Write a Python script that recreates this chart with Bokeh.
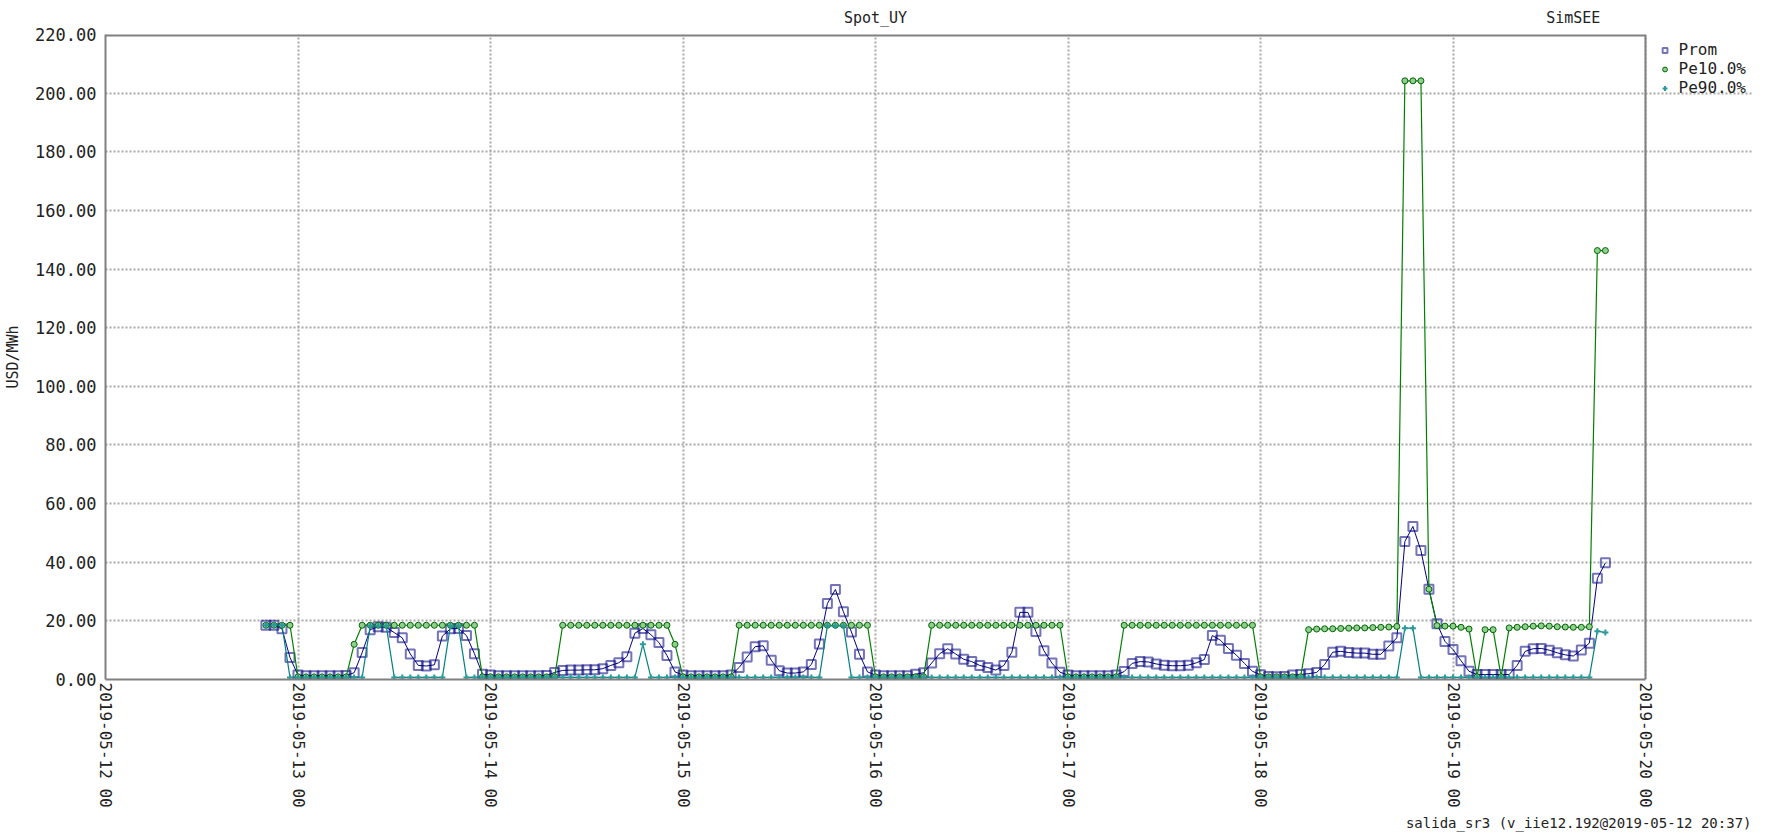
import pandas as pd
from bokeh.plotting import figure
from bokeh.models import (Range1d, FixedTicker, DatetimeTickFormatter, NumeralTickFormatter,
                          Legend, LegendItem, Title, DatetimeAxis, ColumnDataSource,
                          CustomJSTickFormatter)
from bokeh.embed import file_html
from bokeh.resources import INLINE

FONT = "DejaVu Sans Mono"

# ---------------- data (hourly, first point 2019-05-12 20:00) ----------------
start_time = "2019-05-12 20:00"

prom_d12 = [18.5, 18.5, 17.3, 7.5]
prom_d13 = [1.5, 1.3, 1.3, 1.3, 1.3, 1.3, 1.4, 2.3, 9.2, 17.0, 18.0, 17.8,
            16.0, 14.2, 8.7, 4.8, 4.6, 5.0, 14.8, 17.3, 17.4, 15.0, 8.8, 1.8]
prom_d14 = [1.5, 1.3, 1.3, 1.3, 1.3, 1.3, 1.3, 1.4, 2.4, 3.1, 3.2, 3.2,
            3.3, 3.3, 3.7, 4.8, 5.7, 7.8, 15.8, 17.4, 15.3, 12.6, 8.2, 2.6]
prom_d15 = [1.5, 1.3, 1.3, 1.3, 1.3, 1.3, 1.5, 4.1, 7.7, 11.2, 11.5, 6.6,
            3.0, 2.2, 2.2, 2.6, 5.1, 12.1, 25.9, 30.7, 23.1, 16.2, 8.6, 2.6]
prom_d16 = [1.5, 1.3, 1.3, 1.3, 1.3, 1.8, 2.3, 5.6, 8.8, 10.5, 8.7, 6.9,
            6.1, 4.8, 4.1, 3.2, 4.8, 9.3, 22.9, 22.9, 16.4, 9.8, 5.6, 2.5]
prom_d17 = [1.5, 1.3, 1.3, 1.3, 1.3, 1.3, 1.5, 2.7, 5.5, 6.1, 6.0, 5.3,
            4.9, 4.7, 4.7, 4.9, 5.7, 6.8, 15.0, 13.4, 10.6, 8.3, 5.5, 2.8]
prom_d18 = [1.6, 1.0, 0.9, 1.0, 1.5, 1.7, 2.0, 2.4, 5.1, 9.3, 9.6, 9.2,
            9.0, 9.0, 8.6, 8.6, 11.4, 14.2, 47.1, 52.2, 44.0, 30.8, 19.0, 13.0]
prom_d19 = [10.2, 6.4, 2.8, 1.7, 1.7, 1.7, 1.7, 1.7, 4.8, 9.6, 10.5, 10.6,
            10.0, 9.1, 8.4, 8.0, 10.1, 12.4, 34.5, 39.8]

pe10_d12 = [18.5, 18.5, 18.5, 18.5]
pe10_d13 = [0.9, 0.9, 0.9, 0.9, 0.9, 0.9, 0.9, 12.0, 18.5, 18.5, 18.5, 18.5,
            18.5, 18.5, 18.5, 18.5, 18.5, 18.5, 18.5, 18.5, 18.5, 18.5, 18.5, 0.9]
pe10_d14 = [0.9, 0.9, 0.9, 0.9, 0.9, 0.9, 0.9, 0.9, 0.9, 18.5, 18.5, 18.5,
            18.5, 18.5, 18.5, 18.5, 18.5, 18.5, 18.5, 18.5, 18.5, 18.5, 18.5, 12.0]
pe10_d15 = [0.9, 0.9, 0.9, 0.9, 0.9, 0.9, 0.9, 18.5, 18.5, 18.5, 18.5, 18.5,
            18.5, 18.5, 18.5, 18.5, 18.5, 18.5, 18.5, 18.5, 18.5, 18.5, 18.5, 18.5]
pe10_d16 = [0.9, 0.9, 0.9, 0.9, 0.9, 0.9, 0.9, 18.5, 18.5, 18.5, 18.5, 18.5,
            18.5, 18.5, 18.5, 18.5, 18.5, 18.5, 18.5, 18.5, 18.5, 18.5, 18.5, 18.5]
pe10_d17 = [0.9, 0.9, 0.9, 0.9, 0.9, 0.9, 0.9, 18.5, 18.5, 18.5, 18.5, 18.5,
            18.5, 18.5, 18.5, 18.5, 18.5, 18.5, 18.5, 18.5, 18.5, 18.5, 18.5, 18.5]
pe10_d18 = [0.9, 0.9, 0.9, 0.9, 0.9, 0.9, 17.0, 17.2, 17.3, 17.3, 17.4, 17.5,
            17.6, 17.6, 17.7, 17.8, 17.9, 18.1, 204.2, 204.2, 204.2, 30.8, 18.4, 18.2]
pe10_d19 = [18.2, 17.8, 17.2, 0.9, 17.0, 17.0, 0.9, 17.6, 17.8, 18.0, 18.2, 18.3,
            18.2, 18.0, 17.9, 17.8, 17.8, 18.0, 146.3, 146.3]

pe90_d12 = [18.5, 18.5, 18.5, 0.7]
pe90_d13 = [0.7, 0.7, 0.7, 0.7, 0.7, 0.7, 0.7, 0.7, 0.7, 18.3, 18.3, 18.3,
            0.7, 0.7, 0.7, 0.7, 0.7, 0.7, 0.7, 18.3, 18.3, 0.7, 0.7, 0.7]
pe90_d14 = [0.7, 0.7, 0.7, 0.7, 0.7, 0.7, 0.7, 0.7, 0.7, 0.7, 0.7, 0.7,
            0.7, 0.7, 0.7, 0.7, 0.7, 0.7, 0.7, 12.0, 0.7, 0.7, 0.7, 0.7]
pe90_d15 = [0.7, 0.7, 0.7, 0.7, 0.7, 0.7, 0.7, 0.7, 0.7, 0.7, 0.7, 0.7,
            0.7, 0.7, 0.7, 0.7, 0.7, 0.7, 18.3, 18.3, 18.3, 0.7, 0.7, 0.7]
pe90_d16 = [0.7, 0.7, 0.7, 0.7, 0.7, 0.7, 0.7, 0.7, 0.7, 0.7, 0.7, 0.7,
            0.7, 0.7, 0.7, 0.7, 0.7, 0.7, 0.7, 0.7, 0.7, 0.7, 0.7, 0.7]
pe90_d17 = [0.7, 0.7, 0.7, 0.7, 0.7, 0.7, 0.7, 0.7, 0.7, 0.7, 0.7, 0.7,
            0.7, 0.7, 0.7, 0.7, 0.7, 0.7, 0.7, 0.7, 0.7, 0.7, 0.7, 0.7]
pe90_d18 = [0.7, 0.7, 0.7, 0.7, 0.7, 0.7, 0.7, 0.7, 0.7, 0.7, 0.7, 0.7,
            0.7, 0.7, 0.7, 0.7, 0.7, 0.7, 17.5, 17.5, 0.7, 0.7, 0.7, 0.7]
pe90_d19 = [0.7, 0.7, 0.7, 0.7, 0.7, 0.7, 0.7, 0.7, 0.7, 0.7, 0.7, 0.7,
            0.7, 0.7, 0.7, 0.7, 0.7, 0.7, 16.5, 16.0]

series_names = ["Prom", "Pe10.0%", "Pe90.0%"]
tick_labels = ["2019-05-12 00", "2019-05-13 00", "2019-05-14 00", "2019-05-15 00",
               "2019-05-16 00", "2019-05-17 00", "2019-05-18 00", "2019-05-19 00",
               "2019-05-20 00"]
y_ticks = [0, 20, 40, 60, 80, 100, 120, 140, 160, 180, 200, 220]
top_texts = ["Spot_UY", "SimSEE"]
top_times = ["2019-05-16 00:00", "2019-05-19 15:00"]
footer_text = "salida_sr3 (v_iie12.192@2019-05-12 20:37)"

prom = prom_d12 + prom_d13 + prom_d14 + prom_d15 + prom_d16 + prom_d17 + prom_d18 + prom_d19
pe10 = pe10_d12 + pe10_d13 + pe10_d14 + pe10_d15 + pe10_d16 + pe10_d17 + pe10_d18 + pe10_d19
pe90 = pe90_d12 + pe90_d13 + pe90_d14 + pe90_d15 + pe90_d16 + pe90_d17 + pe90_d18 + pe90_d19

times = pd.date_range(start_time, periods=len(prom), freq="h")
src = ColumnDataSource(dict(t=times, prom=prom, pe10=pe10, pe90=pe90))

tick_times = pd.to_datetime(tick_labels, format="%Y-%m-%d %H")
tick_ms = [float(t.value // 10**6) for t in tick_times]
top_ms = [float(pd.Timestamp(t).value // 10**6) for t in top_times]

# ---------------- layout geometry (pixels) ----------------
W, H = 1752, 832
LEFT, TOP, BOTTOM = 105, 34, 150
BOX_PX = 1540                      # width of the plotted box (05-12 .. 05-20)
FRAME_PX = W - LEFT                # the frame also hosts the legend column on the right
x_start = tick_ms[0]
x_end = tick_ms[0] + (tick_ms[-1] - tick_ms[0]) * FRAME_PX / BOX_PX

p = figure(width=W, height=H, x_axis_type="datetime",
           output_backend="svg", toolbar_location=None,
           x_range=Range1d(x_start, x_end), y_range=Range1d(y_ticks[0], y_ticks[-1]),
           min_border_left=LEFT, min_border_right=0, min_border_top=TOP,
           min_border_bottom=BOTTOM)
p.title.text = ""
p.background_fill_color = "white"
p.border_fill_color = "white"
p.outline_line_color = None

box_bounds = (tick_ms[0], tick_ms[-1])

p.xaxis.ticker = FixedTicker(ticks=tick_ms)
fmt = "%Y-%m-%d %H"
p.xaxis.formatter = DatetimeTickFormatter(
    microseconds=fmt, milliseconds=fmt, seconds=fmt, minsec=fmt, minutes=fmt,
    hourmin=fmt, hours=fmt, days=fmt, months=fmt, years=fmt)
p.xaxis.major_label_orientation = "vertical"
p.xaxis.major_label_standoff = 3
p.xaxis.bounds = box_bounds

p.yaxis.ticker = FixedTicker(ticks=y_ticks)
p.yaxis.formatter = NumeralTickFormatter(format="0.00")
p.yaxis.axis_label = "USD/MWh"
p.yaxis.axis_label_text_font = FONT
p.yaxis.axis_label_text_font_size = "15px"
p.yaxis.axis_label_text_font_style = "normal"
p.yaxis.axis_label_text_color = "#222222"
p.yaxis.axis_label_standoff = 10
p.yaxis.major_label_standoff = 9

for ax in (p.xaxis, p.yaxis):
    ax.axis_line_color = "#808080"
    ax.axis_line_width = 2
    ax.major_tick_line_color = None
    ax.minor_tick_line_color = None
    ax.major_tick_out = 0
    ax.major_tick_in = 0
    ax.minor_tick_out = 0
    ax.minor_tick_in = 0
    ax.major_label_text_font = FONT
    ax.major_label_text_color = "#222222"
p.yaxis.major_label_text_font_size = "17px"
p.xaxis.major_label_text_font_size = "16px"

p.xgrid.grid_line_color = "#a8a8a8"
p.xgrid.grid_line_dash = "2 2"
p.xgrid.grid_line_width = 2
p.ygrid.grid_line_color = "#a8a8a8"
p.ygrid.grid_line_dash = "2 2"
p.ygrid.grid_line_width = 2
p.ygrid.bounds = box_bounds

# top and right edges of the plotted box
p.segment(x0=[box_bounds[0]], y0=[y_ticks[-1]], x1=[box_bounds[1]], y1=[y_ticks[-1]],
          line_color="#808080", line_width=4)
p.segment(x0=[box_bounds[1]], y0=[y_ticks[0]], x1=[box_bounds[1]], y1=[y_ticks[-1]],
          line_color="#808080", line_width=2)

# series
p.line("t", "prom", source=src, line_color="#000080", line_width=1)
r_prom = p.scatter("t", "prom", source=src, marker="square", size=9,
                   line_color="#000080", line_alpha=0.55, line_width=2, fill_color=None)
p.line("t", "pe10", source=src, line_color="#008000", line_width=1.2)
r_pe10 = p.scatter("t", "pe10", source=src, marker="circle", size=6,
                   line_color="#006400", line_width=1, fill_color="#8fd08f")
p.line("t", "pe90", source=src, line_color="#008080", line_width=1.2)
r_pe90 = p.scatter("t", "pe90", source=src, marker="cross", size=6,
                   line_color="#2a9a9a", line_width=2)

# legend in the column right of the plotted box
legend = Legend(items=[LegendItem(label=series_names[0], renderers=[r_prom]),
                       LegendItem(label=series_names[1], renderers=[r_pe10]),
                       LegendItem(label=series_names[2], renderers=[r_pe90])],
                location="top_right", margin=6, padding=0, spacing=0,
                glyph_width=12, glyph_height=18, label_height=18, label_standoff=8,
                label_text_font=FONT, label_text_font_size="16px",
                label_text_color="#222222", border_line_color=None,
                background_fill_alpha=0)
p.add_layout(legend, "center")

# chart title and "SimSEE" mark: label-only axis above the frame
top_axis = DatetimeAxis(ticker=FixedTicker(ticks=top_ms),
                        formatter=CustomJSTickFormatter(
                            args=dict(labels=top_texts, where=top_ms),
                            code="""
let best = 0;
for (let i = 0; i < where.length; i++) {
  if (Math.abs(where[i] - tick) < Math.abs(where[best] - tick)) best = i;
}
return labels[best];
"""),
                        axis_line_color=None, major_tick_line_color=None,
                        minor_tick_line_color=None, major_tick_out=0, major_tick_in=0,
                        minor_tick_out=0, minor_tick_in=0, major_label_standoff=8,
                        major_label_text_font=FONT, major_label_text_font_size="15px",
                        major_label_text_color="#222222")
p.add_layout(top_axis, "above")

# footer, right-aligned at the page edge, below the date labels
p.add_layout(Title(text=footer_text, align="right", offset=1, text_font=FONT,
                   text_font_size="14px", text_font_style="normal",
                   text_color="#222222", standoff=4), "below")

open("out.html", "w").write(file_html(p, INLINE))
